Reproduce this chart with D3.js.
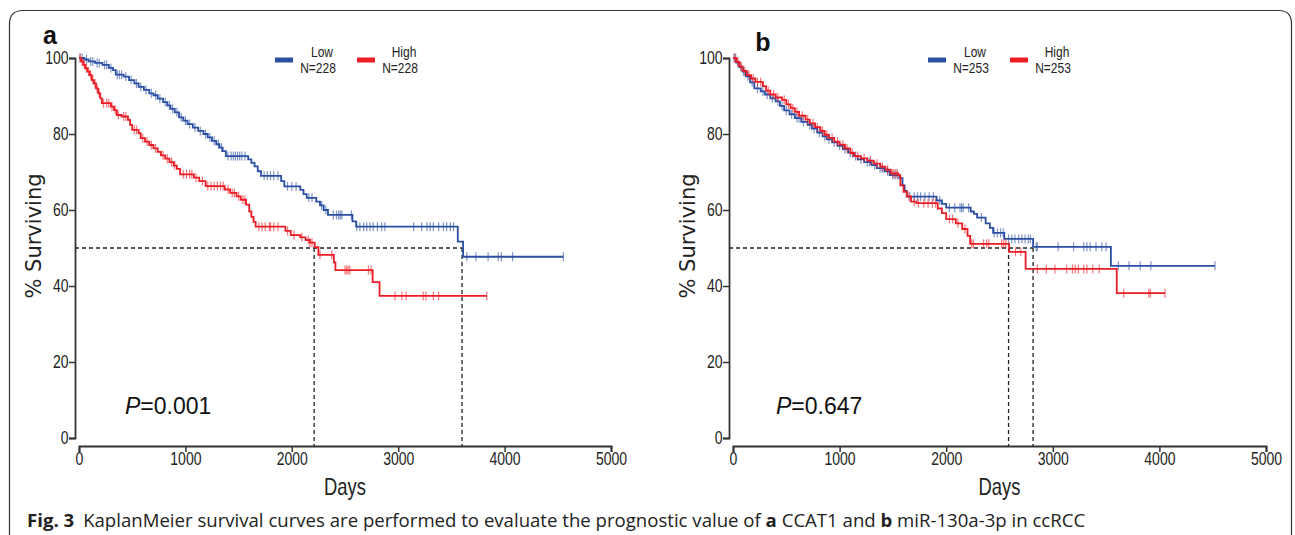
<!DOCTYPE html>
<html>
<head>
<meta charset="utf-8">
<script src="https://cdn.jsdelivr.net/npm/d3@7"></script>
<style>
  body { margin: 0; background: #fff; }
  svg { display: block; }
</style>
</head>
<body>
<svg id="fig" width="1295" height="535"></svg>
<script>
// ---- data ----
const panelNames = ["a", "b"];
const xTicks = [0, 1000, 2000, 3000, 4000, 5000];
const yTicks = [0, 20, 40, 60, 80, 100];
const groupNames = ["Low", "High"];
const groupN = [[228, 228], [253, 253]];
const pValues = ["0.001", "0.647"];
const medianDays = [[3600, 2210], [2815, 2585]];

// step points [day, % surviving] after each drop
const lowA = [[0,100],[50,99.6],[90,99.1],[150,98.7],[220,98.2],[280,97.4],[320,96.8],[345,95.6],[420,95.1],[470,94.2],[520,93.3],[560,92.4],[610,91.6],[660,90.7],[700,90.2],[740,89.3],[790,88.4],[830,87.5],[860,86.6],[900,85.7],[940,84.4],[980,83.5],[1020,82.6],[1070,81.7],[1120,80.8],[1170,80.0],[1210,79.1],[1250,78.2],[1290,77.3],[1320,76.4],[1350,75.5],[1380,74.2],[1590,73.3],[1620,72.4],[1650,71.5],[1680,70.2],[1710,69.0],[1900,67.6],[1930,66.2],[2080,65.3],[2110,64.2],[2140,63.2],[2230,62.2],[2265,61.2],[2300,60.0],[2340,58.7],[2570,57.0],[2605,55.6],[3560,51.7],[3610,47.7]];
const highA = [[0,100],[20,99.1],[40,98.2],[60,97.3],[80,96.4],[100,95.5],[120,94.2],[140,93.3],[160,92.0],[180,90.7],[200,89.4],[215,88.1],[300,87.2],[330,86.3],[355,85.0],[400,84.6],[460,83.7],[480,82.4],[500,81.1],[560,80.2],[580,78.9],[620,78.0],[660,77.1],[700,76.2],[740,75.3],[770,74.4],[810,73.5],[850,72.6],[890,71.7],[920,70.8],[950,69.4],[1080,68.5],[1130,67.6],[1190,66.3],[1370,65.4],[1420,64.5],[1480,63.6],[1520,62.7],[1570,61.4],[1600,59.6],[1620,58.2],[1640,56.9],[1660,55.6],[1940,54.5],[1990,53.4],[2080,52.8],[2130,52.1],[2170,51.4],[2215,50.2],[2250,48.2],[2395,46.2],[2410,44.2],[2760,41.0],[2825,37.4]];
const lowB = [[0,100],[30,98.8],[60,97.6],[90,96.4],[120,95.2],[160,93.6],[200,92.0],[260,91.2],[300,90.4],[350,89.4],[400,88.6],[440,87.4],[480,86.2],[530,85.2],[580,84.2],[640,83.2],[700,82.4],[740,81.4],[790,80.4],[840,79.4],[880,78.6],[930,77.8],[980,76.9],[1030,76.0],[1080,75.1],[1130,74.2],[1170,73.3],[1230,72.6],[1300,71.8],[1350,71.0],[1420,70.2],[1470,69.2],[1560,68.4],[1590,66.5],[1610,65.0],[1630,63.5],[1910,62.5],[1960,61.6],[2000,60.6],[2230,59.6],[2260,59.0],[2290,58.0],[2370,56.5],[2410,55.3],[2440,54.0],[2545,52.4],[2815,50.3],[3545,45.3]];
const highB = [[0,100],[30,99.0],[60,97.8],[90,96.6],[130,95.5],[170,94.6],[210,93.7],[280,92.6],[310,91.4],[350,90.4],[400,89.6],[460,89.0],[500,87.8],[540,86.8],[580,85.8],[620,84.8],[680,83.8],[720,82.8],[770,81.8],[820,80.8],[860,79.8],[900,79.0],[950,78.0],[1000,77.2],[1050,76.2],[1100,75.0],[1140,74.2],[1200,73.6],[1260,73.0],[1320,72.2],[1380,71.4],[1430,70.6],[1480,69.6],[1550,69.2],[1570,66.5],[1600,64.8],[1630,63.6],[1670,62.2],[1720,61.8],[1920,60.4],[1960,59.2],[2000,57.6],[2090,56.5],[2150,55.0],[2200,53.2],[2225,51.1],[2590,49.0],[2745,44.5],[3600,38.1]];
const lastDay = [[4552, 3832], [4522, 4053]];

// censored observations (days)
const censLowA = [10,30,70,110,130,170,190,240,260,300,360,380,400,440,490,540,580,630,680,720,760,810,850,880,920,960,1000,1040,1090,1140,1190,1230,1270,1310,1340,1400,1430,1450,1470,1490,1510,1530,1560,1740,1770,1800,1830,1870,1960,2000,2040,2160,2190,2280,2320,2390,2420,2440,2455,2470,2560,2610,2640,2675,2705,2735,2765,2805,2845,2875,3145,3220,3270,3300,3330,3380,3425,3455,3490,3520,3645,3730,3845,3940,3970,4075,4552];
const censHighA = [10,30,50,70,90,110,130,150,170,190,230,260,280,310,340,370,420,440,520,540,600,640,680,720,790,830,870,900,980,1010,1040,1060,1100,1160,1210,1240,1270,1300,1330,1355,1400,1440,1460,1500,1540,1560,1690,1720,1750,1790,1800,1830,1870,1960,2020,2095,2155,2170,2190,2265,2375,2500,2515,2530,2545,2720,2745,2970,3035,3075,3235,3260,3330,3380,3832];
const censLowB = [10,25,45,75,100,140,180,230,280,320,370,420,460,500,550,600,620,660,720,760,810,860,900,950,1000,1050,1100,1150,1200,1260,1280,1330,1380,1400,1450,1500,1520,1540,1660,1700,1730,1760,1800,1840,1880,1940,2030,2080,2130,2145,2160,2210,2330,2450,2480,2510,2535,2585,2615,2645,2680,2710,2740,2770,2790,2845,2855,3050,3195,3290,3320,3350,3405,3460,3500,3615,3715,3820,3920,4522];
const censHighB = [15,45,75,110,150,190,230,260,330,380,420,480,520,560,600,650,700,750,790,840,880,930,980,1030,1070,1120,1170,1230,1290,1350,1400,1450,1500,1520,1540,1650,1700,1740,1790,1830,1870,1900,2030,2060,2110,2175,2240,2255,2350,2380,2400,2520,2540,2560,2650,2700,2855,2940,3020,3130,3185,3210,3240,3290,3320,3375,3435,3665,3900,3915,4053];

const curves = [[lowA, highA], [lowB, highB]];
const censors = [[censLowA, censHighA], [censLowB, censHighB]];
const colors = ["#2b4fa3", "#ec1c24"];
const narrow = "'Liberation Sans', Arial, sans-serif";

const svg = d3.select("#fig");

// frame round the figure
svg.append("path")
  .attr("d", "M9.5,535 L9.5,24 Q9.5,10.5 23,10.5 L1279,10.5 Q1291.5,10.5 1291.5,24 L1291.5,535")
  .attr("fill", "none").attr("stroke", "#333").attr("stroke-width", 1.2);

// where each panel sits
const frames = [
  { x0: 79, x1: 611, yAxisX: 75, labelX: 50, labelY: 44, pX: 125, legX: 275 },
  { x0: 733, x1: 1266, yAxisX: 729, labelX: 763, labelY: 51, pX: 776, legX: 928 }
];

frames.forEach(function(f, pi) {
  const x = d3.scaleLinear().domain([0, 5000]).range([f.x0, f.x1]);
  const y = d3.scaleLinear().domain([0, 100]).range([438, 58]);
  const g = svg.append("g");

  // y axis
  const ya = g.append("g")
    .attr("transform", "translate(" + f.yAxisX + ",0)")
    .call(d3.axisLeft(y).tickValues(yTicks).tickSize(6).tickPadding(2));
  ya.select(".domain").attr("stroke", "#333").attr("stroke-width", 1.8);
  ya.selectAll(".tick line").attr("stroke", "#333").attr("stroke-width", 1.5);
  ya.selectAll(".tick text")
    .attr("font-family", narrow).attr("font-size", 17.5).attr("fill", "#222")
    .attr("transform", "scale(0.8,1)");

  // x axis
  const xa = g.append("g")
    .attr("transform", "translate(0,446)")
    .call(d3.axisBottom(x).tickValues(xTicks).tickFormat(d3.format("d")).tickSize(6).tickPadding(1));
  xa.select(".domain").attr("stroke", "#333").attr("stroke-width", 2);
  xa.selectAll(".tick line").attr("stroke", "#333").attr("stroke-width", 1.5);
  xa.selectAll(".tick text")
    .attr("font-family", narrow).attr("font-size", 17.5).attr("fill", "#222")
    .attr("transform", "scale(0.8,1)");

  // axis titles
  g.append("text")
    .attr("transform", "translate(" + (f.yAxisX - 34) + ",236) rotate(-90)")
    .attr("text-anchor", "middle")
    .attr("font-family", "DejaVu Sans, sans-serif")
    .attr("font-size", 21).attr("fill", "#222")
    .text("% Surviving");
  g.append("text")
    .attr("transform", "translate(" + ((f.x0 + f.x1) / 2) + ",495) scale(0.8,1)")
    .attr("text-anchor", "middle")
    .attr("font-family", narrow)
    .attr("font-size", 23).attr("fill", "#222")
    .text("Days");

  // panel letter
  g.append("text")
    .attr("x", f.labelX).attr("y", f.labelY)
    .attr("text-anchor", "middle")
    .attr("font-family", "Liberation Sans, Arial, sans-serif")
    .attr("font-weight", "bold").attr("font-size", 25).attr("fill", "#111")
    .text(panelNames[pi]);

  // median guides
  const med = medianDays[pi];
  g.append("line")
    .attr("x1", f.yAxisX).attr("x2", x(d3.max(med)))
    .attr("y1", y(50)).attr("y2", y(50))
    .attr("stroke", "#222").attr("stroke-width", 1.3).attr("stroke-dasharray", "4,3");
  g.selectAll(".median")
    .data(med)
    .enter().append("line")
    .attr("class", "median")
    .attr("x1", d => x(d)).attr("x2", d => x(d))
    .attr("y1", y(50)).attr("y2", 446)
    .attr("stroke", "#222").attr("stroke-width", 1.3).attr("stroke-dasharray", "4,3");

  // survival curves, High drawn last like the figure
  const line = d3.line().x(d => x(d[0])).y(d => y(d[1])).curve(d3.curveStepAfter);
  [0, 1].forEach(function(ci) {
    const steps = curves[pi][ci];
    const pts = steps.concat([[lastDay[pi][ci], steps[steps.length - 1][1]]]);
    g.append("path")
      .datum(pts)
      .attr("d", line)
      .attr("fill", "none")
      .attr("stroke", colors[ci])
      .attr("stroke-width", 1.8);

    function survAt(day) {
      let v = steps[0][1];
      steps.forEach(function(s) { if (s[0] <= day) v = s[1]; });
      return v;
    }
    g.selectAll(".cens" + ci)
      .data(censors[pi][ci])
      .enter().append("line")
      .attr("class", "cens" + ci)
      .attr("x1", d => x(d)).attr("x2", d => x(d))
      .attr("y1", d => y(survAt(d)) - 4.5).attr("y2", d => y(survAt(d)) + 4.5)
      .attr("stroke", colors[ci]).attr("stroke-opacity", 0.6)
      .attr("stroke-width", 1.2);
  });

  // legend
  const leg = g.append("g").attr("transform", "translate(" + f.legX + ",0)");
  [0, 1].forEach(function(ci) {
    const lx = ci * 82;
    leg.append("rect")
      .attr("x", lx).attr("y", 57.5).attr("width", 18).attr("height", 5)
      .attr("fill", colors[ci]);
    leg.append("text")
      .attr("transform", "translate(" + (lx + 47) + ",57) scale(0.8,1)")
      .attr("text-anchor", "middle")
      .attr("font-family", narrow)
      .attr("font-size", 15).attr("fill", "#222")
      .text(groupNames[ci]);
    leg.append("text")
      .attr("transform", "translate(" + (lx + 43) + ",73) scale(0.8,1)")
      .attr("text-anchor", "middle")
      .attr("font-family", narrow)
      .attr("font-size", 15).attr("fill", "#222")
      .text("N=" + groupN[pi][ci]);
  });

  // p value
  const pt = g.append("text")
    .attr("x", f.pX).attr("y", 414)
    .attr("font-family", "Liberation Sans, Arial, sans-serif")
    .attr("font-size", 23).attr("fill", "#111");
  pt.append("tspan").attr("font-style", "italic").text("P");
  pt.append("tspan").text("=" + pValues[pi]);
});

// caption
const cap = svg.append("text")
  .attr("x", 27).attr("y", 527)
  .attr("font-family", "'Open Sans', sans-serif")
  .attr("font-size", 18.6).attr("fill", "#222");
cap.append("tspan").attr("font-weight", "bold").text("Fig. 3");
cap.append("tspan").attr("dx", 9).text("KaplanMeier survival curves are performed to evaluate the prognostic value of ");
cap.append("tspan").attr("font-weight", "bold").text("a");
cap.append("tspan").text(" CCAT1 and ");
cap.append("tspan").attr("font-weight", "bold").text("b");
cap.append("tspan").text(" miR-130a-3p in ccRCC");
</script>
</body>
</html>
